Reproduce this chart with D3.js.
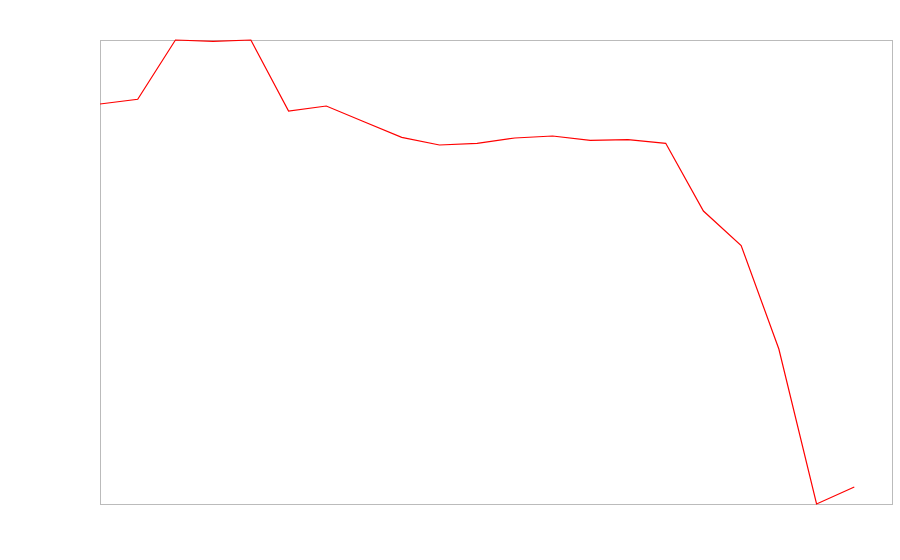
<!DOCTYPE html>
<html>
<head>
<meta charset="utf-8">
<script src="https://cdn.jsdelivr.net/npm/d3@7"></script>
<style>
html,body{margin:0;padding:0;background:#fff;}
svg{display:block;}
</style>
</head>
<body>
<svg id="chart" width="900" height="560"></svg>
<script>
const periods = d3.range(21);
const values = [400, 404.7, 464, 462.7, 464, 393, 398, 382.3, 366.7, 359, 360.7, 366, 368, 363.7, 364.3, 360.7, 293, 258.5, 155, 0, 17];

const svg = d3.select("#chart");
const margin = {left: 100, right: 8, top: 40, bottom: 56};
const W = 900, H = 560;
const x = d3.scaleLinear().domain([0, periods.length]).range([margin.left, W - margin.right]);
const y = d3.scaleLinear().domain(d3.extent(values)).range([H - margin.bottom, margin.top]);

svg.append("rect")
  .attr("x", margin.left + 0.5).attr("y", margin.top + 0.5)
  .attr("width", W - margin.right - margin.left).attr("height", H - margin.bottom - margin.top)
  .attr("fill", "none").attr("stroke", "#bbbbbb").attr("stroke-width", 1);

const line = d3.line().x((d, i) => x(periods[i])).y(d => y(d));
svg.append("path").datum(values)
  .attr("d", line)
  .attr("fill", "none")
  .attr("stroke", "#ff0000")
  .attr("stroke-width", 1.2);
</script>
</body>
</html>
